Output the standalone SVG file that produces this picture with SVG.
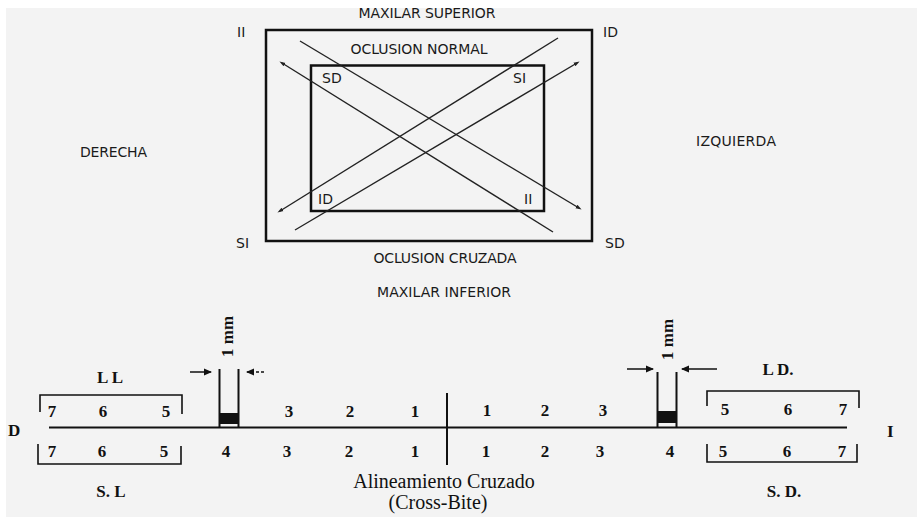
<svg xmlns="http://www.w3.org/2000/svg" width="917" height="517" viewBox="0 0 917 517">
<defs>
<style>
.s{font-family:"DejaVu Sans","Liberation Sans",sans-serif;font-size:14px;fill:#1a1a1a}
.b{font-family:"Liberation Serif","DejaVu Serif",serif;font-weight:bold;font-size:17px;fill:#111}
.r{font-family:"Liberation Serif","DejaVu Serif",serif;font-size:20px;fill:#111}
.box{fill:none;stroke:#111;stroke-width:2.5}
.diag{stroke:#222;stroke-width:1.4;fill:none}
.ln{stroke:#111;stroke-width:2;fill:none}
.br{stroke:#111;stroke-width:1.6;fill:none}
.ar{stroke:#111;stroke-width:1.5;fill:none}
</style>
<marker id="dot" markerWidth="6" markerHeight="6" refX="3" refY="3" orient="auto" markerUnits="userSpaceOnUse">
<path d="M0,1 L6,3 L0,5 Z" fill="#222"/>
</marker>
<marker id="ah" markerWidth="8" markerHeight="8" refX="7" refY="4" orient="auto" markerUnits="userSpaceOnUse">
<path d="M0,0.5 L8,4 L0,7.5 Z" fill="#111"/>
</marker>
</defs>
<rect x="0" y="0" width="917" height="517" fill="#ffffff"/>
<rect x="6" y="8" width="911" height="509" fill="#f3f3f3"/>

<g id="top-diagram">
<rect id="outer-box" class="box" x="266" y="30" width="326" height="211"/>
<rect id="inner-box" class="box" x="311" y="65.5" width="233" height="145.5"/>
<g id="diagonals">
<line class="diag" x1="300" y1="41" x2="579" y2="208" marker-end="url(#dot)"/>
<line class="diag" x1="553" y1="232" x2="282" y2="63" marker-end="url(#dot)"/>
<line class="diag" x1="558" y1="38" x2="280" y2="211" marker-end="url(#dot)"/>
<line class="diag" x1="295" y1="230" x2="577" y2="63" marker-end="url(#dot)"/>
</g>
<text class="s" x="427" y="18" text-anchor="middle" textLength="137">MAXILAR SUPERIOR</text>
<text class="s" x="419" y="54" text-anchor="middle" textLength="137">OCLUSION NORMAL</text>
<text class="s" x="237" y="37">II</text>
<text class="s" x="603" y="37">ID</text>
<text class="s" x="322" y="83">SD</text>
<text class="s" x="513" y="83">SI</text>
<text class="s" x="318" y="204">ID</text>
<text class="s" x="524" y="204">II</text>
<text class="s" x="236" y="248">SI</text>
<text class="s" x="605" y="248">SD</text>
<text class="s" x="445" y="263" text-anchor="middle" textLength="143">OCLUSION CRUZADA</text>
<text class="s" x="444" y="297" text-anchor="middle" textLength="134">MAXILAR INFERIOR</text>
<text class="s" x="80" y="157" textLength="67">DERECHA</text>
<text class="s" x="696" y="146" textLength="80">IZQUIERDA</text>
</g>

<g id="connectors">
<line class="ln" x1="49" y1="427.5" x2="847" y2="427.5" stroke-width="2.4"/>
<line class="ln" x1="447" y1="393" x2="447" y2="465" stroke-width="1.8"/>
<path class="br" d="M40,412 V395 H182 V414"/>
<path class="br" d="M38,444 V464 H181 V446"/>
<path class="br" d="M707,406 V391 H859 V408"/>
<path class="br" d="M707,444 V462 H857 V444"/>
<line class="ar" x1="190" y1="372" x2="211" y2="372" marker-end="url(#ah)"/>
<line class="ar" x1="264" y1="372" x2="247" y2="372" stroke-dasharray="3,2" marker-end="url(#ah)"/>
<line class="ar" x1="627" y1="369" x2="653" y2="369" marker-end="url(#ah)"/>
<line class="ar" x1="717" y1="369" x2="682" y2="369" marker-end="url(#ah)"/>
</g>

<g id="tooth-left">
<path class="ln" d="M219.5,369 V428 M238.5,369 V428" stroke-width="1.8"/>
<rect x="219" y="413" width="20" height="11" fill="#111"/>
<text class="b" font-size="13" transform="translate(233,357) rotate(-90)">1 mm</text>
</g>
<g id="tooth-right">
<path class="ln" d="M657.5,372 V428 M676.5,372 V428" stroke-width="1.8"/>
<rect x="657" y="411" width="20" height="12" fill="#111"/>
<text class="b" font-size="13" transform="translate(673,360) rotate(-90)">1 mm</text>
</g>

<g id="labels-bottom">
<text class="b" x="8" y="436" font-family="DejaVu Sans" font-size="15">D</text>
<text class="b" x="887" y="437">I</text>
<text class="b" x="110" y="383" text-anchor="middle">L L</text>
<text class="b" x="778" y="375" text-anchor="middle">L D.</text>
<text class="b" x="111" y="497" text-anchor="middle">S. L</text>
<text class="b" x="784" y="497" text-anchor="middle">S. D.</text>
<g text-anchor="middle">
<text class="b" x="52" y="417">7</text>
<text class="b" x="103" y="417">6</text>
<text class="b" x="166" y="417">5</text>
<text class="b" x="289" y="417">3</text>
<text class="b" x="350" y="417">2</text>
<text class="b" x="415" y="417">1</text>
<text class="b" x="487" y="416">1</text>
<text class="b" x="545" y="416">2</text>
<text class="b" x="603" y="416">3</text>
<text class="b" x="725" y="415">5</text>
<text class="b" x="788" y="415">6</text>
<text class="b" x="843" y="415">7</text>
<text class="b" x="52" y="457">7</text>
<text class="b" x="102" y="457">6</text>
<text class="b" x="164" y="457">5</text>
<text class="b" x="226" y="457">4</text>
<text class="b" x="287" y="457">3</text>
<text class="b" x="349" y="457">2</text>
<text class="b" x="415" y="457">1</text>
<text class="b" x="486" y="457">1</text>
<text class="b" x="545" y="457">2</text>
<text class="b" x="600" y="457">3</text>
<text class="b" x="670" y="457">4</text>
<text class="b" x="723" y="457">5</text>
<text class="b" x="787" y="457">6</text>
<text class="b" x="842" y="457">7</text>
</g>
<text class="r" x="444" y="488" text-anchor="middle">Alineamiento Cruzado</text>
<text class="r" x="438" y="509" text-anchor="middle">(Cross-Bite)</text>
</g>
</svg>
